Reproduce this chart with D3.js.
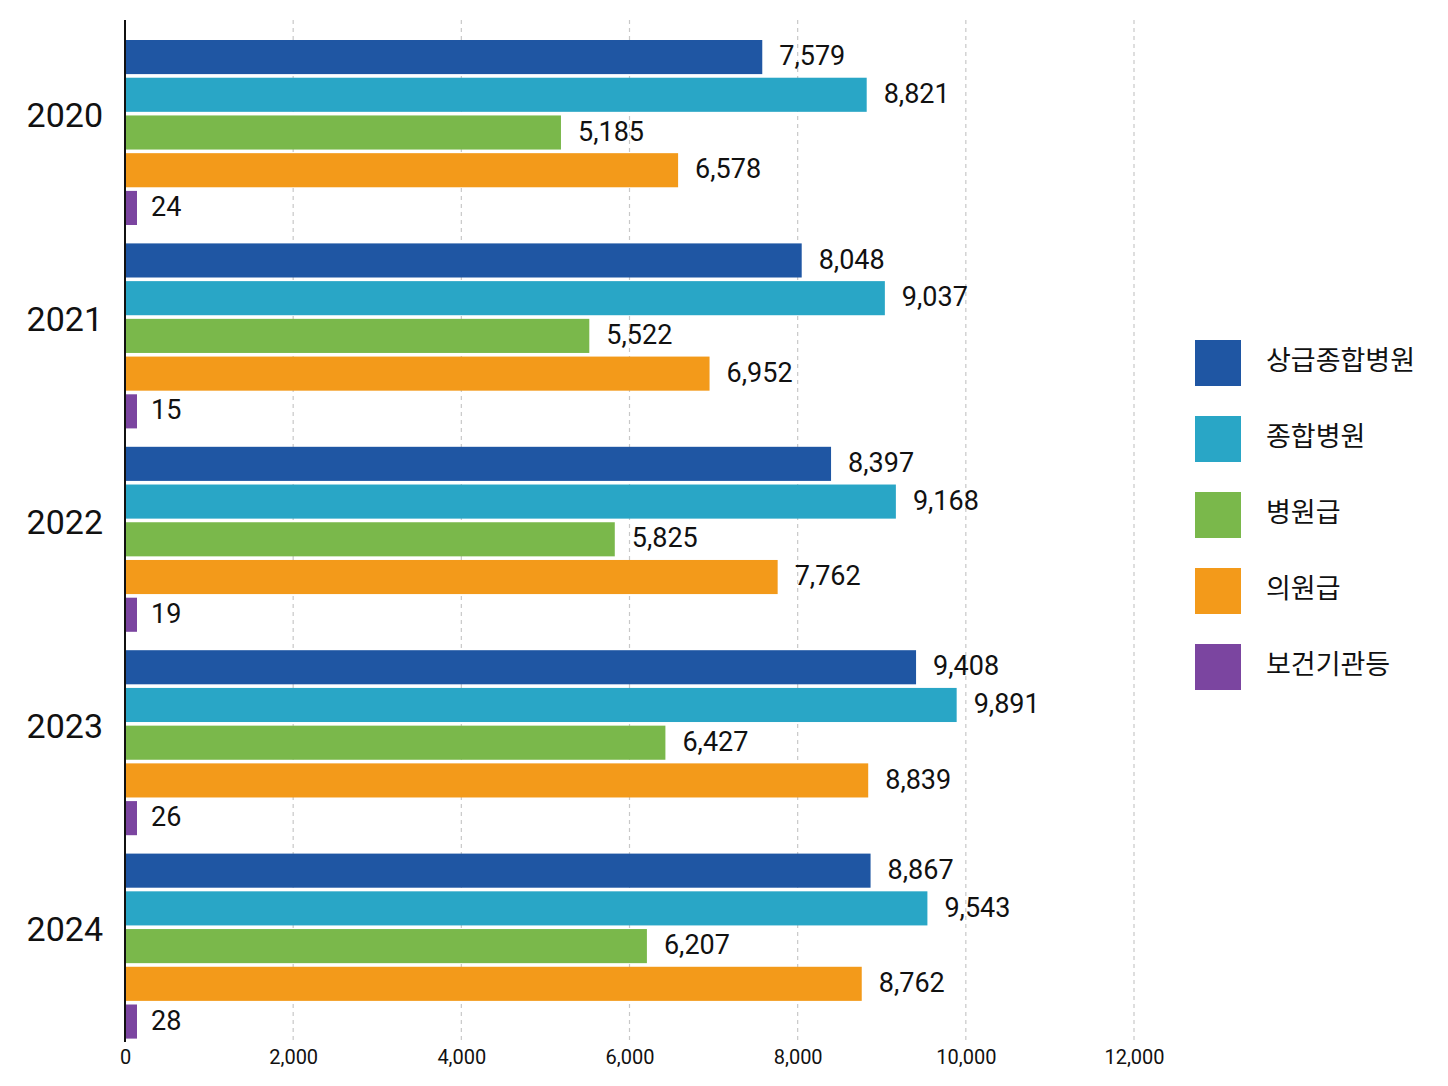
<!DOCTYPE html>
<html>
<head>
<meta charset="utf-8">
<script src="https://cdn.jsdelivr.net/npm/d3@7"></script>
<style>
  body { margin: 0; background: #fff; }
  svg text { font-family: Roboto, "Noto Sans CJK KR", sans-serif; fill: #111; }
</style>
</head>
<body>
<script>
// data
const years = ["2020", "2021", "2022", "2023", "2024"];
const seriesNames = ["상급종합병원", "종합병원", "병원급", "의원급", "보건기관등"];
const seriesColors = ["#1f56a3", "#29a6c6", "#7ab84b", "#f39a1a", "#7b45a0"];
const tertiary = [7579, 8048, 8397, 9408, 8867];
const general = [8821, 9037, 9168, 9891, 9543];
const hospital = [5185, 5522, 5825, 6427, 6207];
const clinic = [6578, 6952, 7762, 8839, 8762];
const publicHealth = [24, 15, 19, 26, 28];
const xTicks = [0, 2000, 4000, 6000, 8000, 10000, 12000];

const allSeries = [tertiary, general, hospital, clinic, publicHealth];

const W = 1448, H = 1086;
const svg = d3.select("body").append("svg").attr("width", W).attr("height", H);

const x = d3.scaleLinear().domain([0, 12000]).range([125, 1134]);
const yYear = d3.scaleBand().domain(years).range([40, 1057]).padding(0);
const ySeries = d3.scaleBand().domain(seriesNames).range([0, 185]).paddingInner(0.096).paddingOuter(0);

// grid
svg.append("g")
    .selectAll("line")
    .data(xTicks.filter((d) => d > 0))
    .join("line")
    .attr("x1", (d) => x(d))
    .attr("x2", (d) => x(d))
    .attr("y1", 20)
    .attr("y2", 1042)
    .attr("stroke", "#c8c8c8")
    .attr("stroke-width", 1.2)
    .attr("stroke-dasharray", "4,4");

// tick labels
const xAxis = d3.axisBottom(x)
    .tickValues(xTicks)
    .tickFormat(d3.format(","))
    .tickSize(0)
    .tickPadding(0);
const gx = svg.append("g").attr("transform", "translate(0,1050)").call(xAxis);
gx.select(".domain").remove();
gx.selectAll("text")
    .style("font-size", "20px")
    .style("font-family", "Roboto, sans-serif")
    .attr("fill", "#111")
    .attr("dy", "0.71em");

// rows
const rows = [];
years.forEach((yr, i) => {
    seriesNames.forEach((s, j) => {
        rows.push({ year: yr, series: s, value: allSeries[j][i], color: seriesColors[j] });
    });
});

const barY = (d) => yYear(d.year) + ySeries(d.series);
const barW = (d) => Math.max(x(d.value) - x(0), 12);

svg.append("g")
    .selectAll("rect")
    .data(rows)
    .join("rect")
    .attr("x", x(0))
    .attr("y", barY)
    .attr("width", barW)
    .attr("height", ySeries.bandwidth())
    .attr("fill", (d) => d.color);

svg.append("g")
    .selectAll("text")
    .data(rows)
    .join("text")
    .attr("x", (d) => x(0) + barW(d) + (d.value < 100 ? 14 : 17))
    .attr("y", (d) => barY(d) + ySeries.bandwidth() / 2 + 1)
    .attr("dominant-baseline", "middle")
    .style("font-size", "27px")
    .text((d) => d3.format(",")(d.value));

// y axis line
svg.append("line")
    .attr("x1", x(0)).attr("x2", x(0))
    .attr("y1", 20).attr("y2", 1042)
    .attr("stroke", "#111")
    .attr("stroke-width", 2);

// year labels
svg.append("g")
    .selectAll("text")
    .data(years)
    .join("text")
    .attr("x", 103)
    .attr("y", (d) => yYear(d) + 185 / 2 - 14)
    .attr("text-anchor", "end")
    .attr("dominant-baseline", "middle")
    .style("font-size", "34px")
    .text((d) => d);

// legend
const legend = svg.append("g").attr("transform", "translate(1195,340)");
const lg = legend.selectAll("g")
    .data(seriesNames)
    .join("g")
    .attr("transform", (d, i) => `translate(0,${i * 76})`);
lg.append("rect")
    .attr("width", 46)
    .attr("height", 46)
    .attr("fill", (d, i) => seriesColors[i]);
lg.append("text")
    .attr("x", 71)
    .attr("y", 23)
    .attr("dominant-baseline", "middle")
    .style("font-family", "'Noto Sans CJK KR', sans-serif")
    .style("font-size", "27px")
    .text((d) => d);
</script>
</body>
</html>
